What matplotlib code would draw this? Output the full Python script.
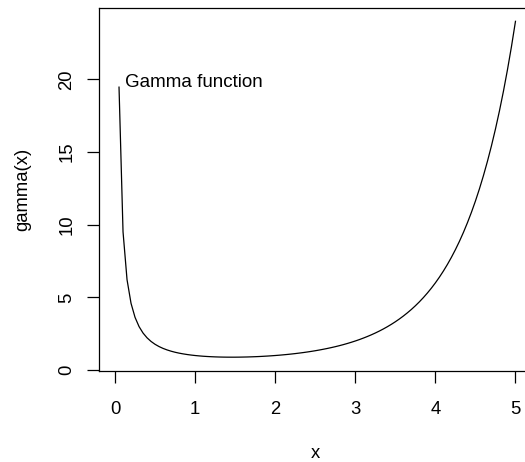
import matplotlib
matplotlib.use("Agg")
import matplotlib.pyplot as plt

# values (x from 0.05 to 5 in steps of 0.05)
x_vals = [0.05, 0.10, 0.15, 0.20, 0.25, 0.30, 0.35, 0.40, 0.45, 0.50,
          0.55, 0.60, 0.65, 0.70, 0.75, 0.80, 0.85, 0.90, 0.95, 1.00,
          1.05, 1.10, 1.15, 1.20, 1.25, 1.30, 1.35, 1.40, 1.45, 1.50,
          1.55, 1.60, 1.65, 1.70, 1.75, 1.80, 1.85, 1.90, 1.95, 2.00,
          2.05, 2.10, 2.15, 2.20, 2.25, 2.30, 2.35, 2.40, 2.45, 2.50,
          2.55, 2.60, 2.65, 2.70, 2.75, 2.80, 2.85, 2.90, 2.95, 3.00,
          3.05, 3.10, 3.15, 3.20, 3.25, 3.30, 3.35, 3.40, 3.45, 3.50,
          3.55, 3.60, 3.65, 3.70, 3.75, 3.80, 3.85, 3.90, 3.95, 4.00,
          4.05, 4.10, 4.15, 4.20, 4.25, 4.30, 4.35, 4.40, 4.45, 4.50,
          4.55, 4.60, 4.65, 4.70, 4.75, 4.80, 4.85, 4.90, 4.95, 5.00]
gamma_vals = [19.470, 9.514, 6.220, 4.591, 3.626, 2.992, 2.546, 2.218, 1.968, 1.772,
              1.616, 1.489, 1.385, 1.298, 1.225, 1.164, 1.113, 1.069, 1.032, 1.000,
              0.974, 0.951, 0.933, 0.918, 0.906, 0.897, 0.891, 0.887, 0.886, 0.886,
              0.889, 0.894, 0.900, 0.909, 0.919, 0.931, 0.946, 0.962, 0.980, 1.000,
              1.022, 1.047, 1.073, 1.102, 1.133, 1.167, 1.203, 1.242, 1.284, 1.329,
              1.378, 1.430, 1.485, 1.545, 1.608, 1.676, 1.749, 1.827, 1.911, 2.000,
              2.095, 2.198, 2.307, 2.424, 2.549, 2.683, 2.827, 2.981, 3.146, 3.323,
              3.513, 3.717, 3.936, 4.170, 4.423, 4.694, 4.986, 5.300, 5.637, 6.000,
              6.391, 6.813, 7.267, 7.757, 8.285, 8.855, 9.471, 10.137, 10.855, 11.632,
              12.472, 13.381, 14.366, 15.431, 16.586, 17.838, 19.195, 20.668, 22.265, 24.000]
x_ticks = [0, 1, 2, 3, 4, 5]
y_ticks = [0, 5, 10, 15, 20]
label_text = "Gamma function"

plt.rcParams["font.family"] = ["Liberation Sans", "DejaVu Sans"]
fs = 13.3

fig = plt.figure(figsize=(5.25, 4.62), dpi=100)
ax = fig.add_axes([0.18857, 0.1978, 0.8238, 0.785])

ax.plot(x_vals, gamma_vals, color="black", lw=0.9)
ax.text(0.125, 19.5, label_text, fontsize=13.5, ha="left", va="baseline")

ax.set_xlim(-0.2, 5.2)
ax.set_ylim(-0.039, 24.92)
ax.set_xticks(x_ticks)
ax.set_yticks(y_ticks)
ax.set_yticklabels([str(v) for v in y_ticks], rotation=90, va="center")

for s in ax.spines.values():
    s.set_linewidth(0.9)
ax.tick_params(axis="both", length=8.6, width=0.9, labelsize=fs, color="black")
ax.tick_params(axis="x", pad=13.5)
ax.tick_params(axis="y", pad=8.5)

ax.set_xlabel("x", fontsize=fs, labelpad=19)
ax.set_ylabel("gamma(x)", fontsize=fs, labelpad=19.5)

fig.savefig("out.png", dpi=100)
